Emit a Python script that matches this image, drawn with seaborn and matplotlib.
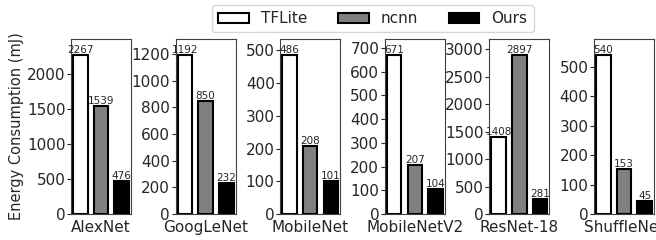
import matplotlib
matplotlib.use("Agg")
import matplotlib.pyplot as plt
import seaborn as sns
import pandas as pd
from matplotlib.patches import Patch
from matplotlib.ticker import MultipleLocator

# Data
models = ["AlexNet", "GoogLeNet", "MobileNet", "MobileNetV2", "ResNet-18", "ShuffleNet"]
frameworks = ["TFLite", "ncnn", "Ours"]
tflite = [2267, 1192, 486, 671, 1408, 540]
ncnn = [1539, 850, 208, 207, 2897, 153]
ours = [476, 232, 101, 104, 281, 45]
tick_steps = [500, 200, 100, 100, 500, 100]

colors = ["white", "grey", "black"]

sns.set_style("ticks")
plt.rcParams["font.family"] = ["DejaVu Sans"]

fig = plt.figure(figsize=(6.56, 2.4), dpi=100)

left0, step, width = 71, 104.6, 60
bottom, top = 214, 39

for i, model in enumerate(models):
    ax = fig.add_axes([(left0 + i * step) / 656, (240 - bottom) / 240,
                       width / 656, (bottom - top) / 240])
    df = pd.DataFrame({
        "framework": frameworks,
        "energy": [tflite[i], ncnn[i], ours[i]],
    })
    sns.barplot(data=df, x="framework", y="energy", hue="framework",
                palette=colors, edgecolor="black", linewidth=1.5,
                width=0.7, legend=False, ax=ax)
    for cont in ax.containers:
        ax.bar_label(cont, fontsize=7.5, padding=0)
    ax.set_xlim(-0.45, 2.45)
    ax.set_ylim(0, max(df["energy"]) * 1.1)
    ax.yaxis.set_major_locator(MultipleLocator(tick_steps[i]))
    ax.set_xticks([1])
    ax.set_xticklabels([model], fontsize=11)
    ax.tick_params(axis="x", length=0, pad=4)
    ax.tick_params(axis="y", labelsize=11, length=3, pad=1)
    ax.set_xlabel("")
    ax.set_ylabel("")
    for sp in ax.spines.values():
        sp.set_visible(True)
        sp.set_color("0.25")
    if i == 0:
        ax.set_ylabel("Energy Consumption (mJ)", fontsize=10.5, labelpad=2)

handles = [Patch(facecolor=c, edgecolor="black", linewidth=1.5) for c in colors]
fig.legend(handles, frameworks, loc="upper center", ncol=3, fontsize=11,
           bbox_to_anchor=(373 / 656, 1.01), frameon=True)

fig.savefig("out.png", dpi=100)
